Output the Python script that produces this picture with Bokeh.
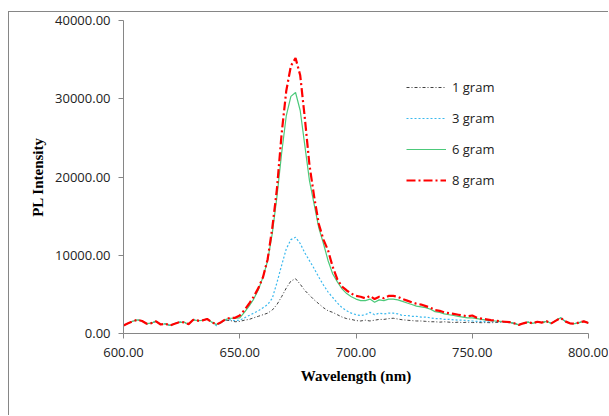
from bokeh.plotting import figure
from bokeh.models import (Legend, LegendItem, NumeralTickFormatter, FixedTicker,
                          Range1d)
from bokeh.embed import file_html
from bokeh.resources import INLINE

wavelength = list(range(600, 802, 2))

gram1 = [1020, 1300, 1570, 1750, 1600, 1250, 1320, 1560, 1150, 1250,
         1030, 1250, 1450, 1430, 1200, 1750, 1650, 1680, 1850, 1450,
         1100, 1400, 1700, 1650, 1500,
         1550, 1700, 1800, 2000, 2200, 2400, 2600, 3000, 3700, 4700,
         5800, 6700, 7000, 6300, 5500, 4900, 4300, 3800, 3300, 2900,
         2700, 2400, 2100, 1900, 1800, 1650, 1600, 1700, 1600, 1700,
         1800, 1800, 1900, 1950, 1850, 1750, 1700, 1650, 1600, 1600,
         1550, 1500, 1500, 1450, 1500, 1450, 1400, 1450, 1400, 1450,
         1400, 1400, 1380, 1400, 1380,
         1400, 1450, 1450, 1400, 1300, 1100, 1300, 1450, 1300, 1500,
         1400, 1550, 1300, 1650, 2000, 1550, 1300, 1250, 1400, 1550, 1350]

gram3 = [1020, 1300, 1570, 1750, 1600, 1250, 1320, 1560, 1150, 1250,
         1030, 1250, 1450, 1430, 1200, 1750, 1650, 1680, 1850, 1450,
         1000, 1400, 1750, 1750, 1650,
         1700, 2000, 2300, 2600, 2900, 3300, 3700, 4500, 6500, 8700,
         10800, 12000, 12300, 11500, 10300, 9300, 8300, 7200, 6200, 5300,
         4600, 3900, 3300, 2900, 2600, 2400, 2300, 2400, 2700, 2400,
         2600, 2500, 2600, 2600, 2500, 2300, 2300, 2200, 2200, 2100,
         2100, 2000, 1900, 1900, 1800, 1800, 1750, 1700, 1700, 1650,
         1600, 1550, 1550, 1500, 1500,
         1500, 1500, 1450, 1400, 1300, 1100, 1300, 1450, 1300, 1500,
         1400, 1550, 1300, 1650, 2000, 1550, 1300, 1250, 1400, 1550, 1350]

gram6 = [1020, 1300, 1570, 1750, 1600, 1250, 1320, 1560, 1150, 1250,
         1030, 1250, 1450, 1430, 1200, 1750, 1650, 1680, 1850, 1450,
         1150, 1450, 1800, 1950, 1950,
         2000, 2700, 3500, 4400, 5600, 7200, 9300, 12800, 17500, 23000,
         27800, 30300, 30800, 28500, 24000, 19500, 16500, 13500, 11500, 9300,
         7600, 6600, 5700, 5100, 4700, 4400, 4200, 4200, 4400, 4000,
         4300, 4200, 4400, 4400, 4300, 4100, 3900, 3700, 3500, 3400,
         3300, 3100, 2800, 2700, 2500, 2400, 2300, 2200, 2100, 2000,
         2000, 1900, 1800, 1700, 1650,
         1600, 1550, 1500, 1450, 1300, 1100, 1300, 1450, 1300, 1500,
         1400, 1550, 1300, 1650, 2000, 1550, 1300, 1250, 1400, 1550, 1350]

gram8 = [1020, 1300, 1570, 1750, 1600, 1250, 1320, 1560, 1150, 1250,
         1030, 1250, 1450, 1430, 1200, 1750, 1650, 1680, 1850, 1450,
         1150, 1450, 1850, 2000, 2000,
         2300, 3000, 3800, 4700, 5800, 7200, 9500, 13500, 18500, 25500,
         31000, 34200, 35200, 33000, 27500, 21500, 17500, 14000, 12000, 10600,
         8500, 6900, 6000, 5500, 5100, 4800, 4700, 4500, 4800, 4400,
         4700, 4500, 4800, 4800, 4700, 4400, 4200, 4000, 3800, 3700,
         3500, 3300, 3000, 2900, 2700, 2600, 2500, 2400, 2300, 2200,
         2300, 2000, 1900, 1800, 1700,
         1650, 1550, 1500, 1450, 1300, 1100, 1300, 1450, 1300, 1500,
         1400, 1550, 1300, 1650, 2000, 1550, 1300, 1250, 1400, 1550, 1350]

series_names = ["1 gram", "3 gram", "6 gram", "8 gram"]
x_ticks = [600, 650, 700, 750, 800]
y_ticks = [0, 10000, 20000, 30000, 40000]

p = figure(width=600, height=404, output_backend="svg", toolbar_location=None,
           x_range=Range1d(600, 800), y_range=Range1d(0, 40000),
           min_border_left=114, min_border_right=21, min_border_top=8,
           min_border_bottom=83,
           styles={"margin-left": "8px", "margin-top": "11px",
                   "border-left": "1px solid #868686",
                   "border-top": "1px solid #868686"})
p.outline_line_color = None
p.grid.visible = False
p.background_fill_color = "white"
p.border_fill_color = "white"

tick_font = "Open Sans"
for ax in (p.xaxis[0], p.yaxis[0]):
    ax.axis_line_color = "#868686"
    ax.major_tick_line_color = "#868686"
    ax.major_tick_out = 5
    ax.major_tick_in = 0
    ax.minor_tick_line_color = None
    ax.major_label_text_font = tick_font
    ax.major_label_text_font_size = "13px"
    ax.major_label_text_color = "#222222"
    ax.axis_label_text_font = "Liberation Serif"
    ax.axis_label_text_font_style = "bold"
    ax.axis_label_text_font_size = "15px"
    ax.axis_label_text_color = "black"
    ax.formatter = NumeralTickFormatter(format="0.00")

p.xaxis[0].ticker = FixedTicker(ticks=x_ticks)
p.yaxis[0].ticker = FixedTicker(ticks=y_ticks)
p.xaxis[0].axis_label = "Wavelength (nm)"
p.yaxis[0].axis_label = "PL Intensity"
p.xaxis[0].major_label_standoff = 9
p.yaxis[0].major_label_standoff = 8
p.xaxis[0].axis_label_standoff = 8
p.yaxis[0].axis_label_standoff = 6

r1 = p.line(wavelength, gram1, line_color="#404040", line_width=1, line_dash="3 2 1 2")
r3 = p.line(wavelength, gram3, line_color="#3BB9EE", line_width=1.2, line_dash="2 2")
r6 = p.line(wavelength, gram6, line_color="#4CC97A", line_width=1.2)
r8 = p.line(wavelength, gram8, line_color="#FF0000", line_width=2.2, line_dash="9 3 2 3")

legend = Legend(items=[LegendItem(label=series_names[0], renderers=[r1]),
                       LegendItem(label=series_names[1], renderers=[r3]),
                       LegendItem(label=series_names[2], renderers=[r6]),
                       LegendItem(label=series_names[3], renderers=[r8])],
                location=(283, 143), border_line_color=None,
                background_fill_alpha=0, padding=0, margin=0,
                spacing=11, glyph_width=40, glyph_height=20, label_height=20,
                label_standoff=6, label_text_font=tick_font,
                label_text_font_size="13px", label_text_color="#222222")
p.add_layout(legend, "center")

open("out.html", "w").write(file_html(p, INLINE))
